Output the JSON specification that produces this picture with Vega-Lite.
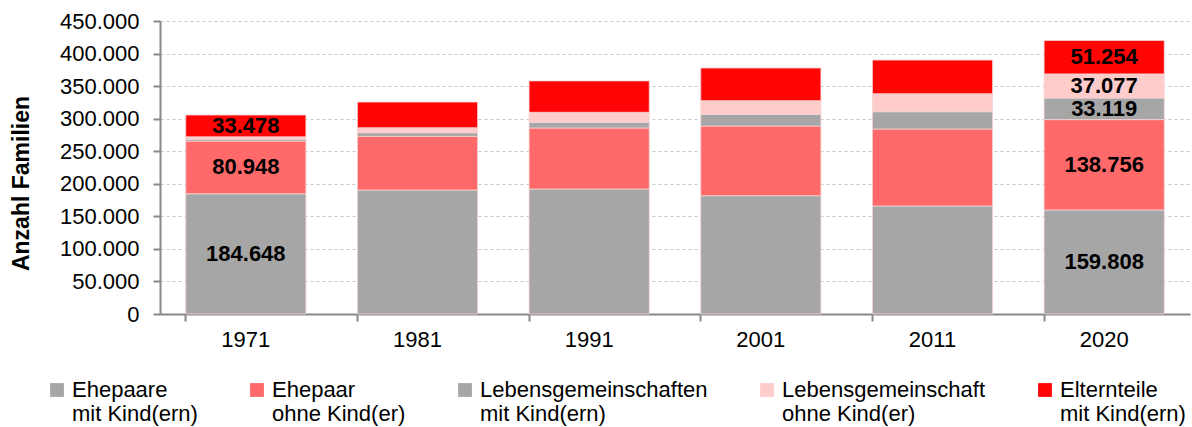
{
  "$schema": "https://vega.github.io/schema/vega-lite/v6.json",
  "width": 1030,
  "height": 293,
  "autosize": {"type": "none"},
  "padding": {"left": 160, "top": 21, "right": 2, "bottom": 113},
  "config": {
    "font": "Liberation Sans",
    "view": {"stroke": null},
    "locale": {"number": {"decimal": ",", "thousands": ".", "grouping": [3], "currency": ["", " €"]}}
  },
  "data": {
    "values": [
      {"Jahr": "1971", "Rang": 1, "Kategorie": "Ehepaare mit Kind(ern)", "Anzahl": 184648},
      {"Jahr": "1971", "Rang": 2, "Kategorie": "Ehepaar ohne Kind(er)", "Anzahl": 80948},
      {"Jahr": "1971", "Rang": 3, "Kategorie": "Lebensgemeinschaften mit Kind(ern)", "Anzahl": 3000},
      {"Jahr": "1971", "Rang": 4, "Kategorie": "Lebensgemeinschaft ohne Kind(er)", "Anzahl": 3500},
      {"Jahr": "1971", "Rang": 5, "Kategorie": "Elternteile mit Kind(ern)", "Anzahl": 33478},
      {"Jahr": "1981", "Rang": 1, "Kategorie": "Ehepaare mit Kind(ern)", "Anzahl": 190400},
      {"Jahr": "1981", "Rang": 2, "Kategorie": "Ehepaar ohne Kind(er)", "Anzahl": 82400},
      {"Jahr": "1981", "Rang": 3, "Kategorie": "Lebensgemeinschaften mit Kind(ern)", "Anzahl": 5600},
      {"Jahr": "1981", "Rang": 4, "Kategorie": "Lebensgemeinschaft ohne Kind(er)", "Anzahl": 7700},
      {"Jahr": "1981", "Rang": 5, "Kategorie": "Elternteile mit Kind(ern)", "Anzahl": 39400},
      {"Jahr": "1991", "Rang": 1, "Kategorie": "Ehepaare mit Kind(ern)", "Anzahl": 192000},
      {"Jahr": "1991", "Rang": 2, "Kategorie": "Ehepaar ohne Kind(er)", "Anzahl": 93700},
      {"Jahr": "1991", "Rang": 3, "Kategorie": "Lebensgemeinschaften mit Kind(ern)", "Anzahl": 8700},
      {"Jahr": "1991", "Rang": 4, "Kategorie": "Lebensgemeinschaft ohne Kind(er)", "Anzahl": 15400},
      {"Jahr": "1991", "Rang": 5, "Kategorie": "Elternteile mit Kind(ern)", "Anzahl": 48200},
      {"Jahr": "2001", "Rang": 1, "Kategorie": "Ehepaare mit Kind(ern)", "Anzahl": 181700},
      {"Jahr": "2001", "Rang": 2, "Kategorie": "Ehepaar ohne Kind(er)", "Anzahl": 107000},
      {"Jahr": "2001", "Rang": 3, "Kategorie": "Lebensgemeinschaften mit Kind(ern)", "Anzahl": 17900},
      {"Jahr": "2001", "Rang": 4, "Kategorie": "Lebensgemeinschaft ohne Kind(er)", "Anzahl": 21000},
      {"Jahr": "2001", "Rang": 5, "Kategorie": "Elternteile mit Kind(ern)", "Anzahl": 50200},
      {"Jahr": "2011", "Rang": 1, "Kategorie": "Ehepaare mit Kind(ern)", "Anzahl": 165900},
      {"Jahr": "2011", "Rang": 2, "Kategorie": "Ehepaar ohne Kind(er)", "Anzahl": 118200},
      {"Jahr": "2011", "Rang": 3, "Kategorie": "Lebensgemeinschaften mit Kind(ern)", "Anzahl": 26600},
      {"Jahr": "2011", "Rang": 4, "Kategorie": "Lebensgemeinschaft ohne Kind(er)", "Anzahl": 27600},
      {"Jahr": "2011", "Rang": 5, "Kategorie": "Elternteile mit Kind(ern)", "Anzahl": 51700},
      {"Jahr": "2020", "Rang": 1, "Kategorie": "Ehepaare mit Kind(ern)", "Anzahl": 159808},
      {"Jahr": "2020", "Rang": 2, "Kategorie": "Ehepaar ohne Kind(er)", "Anzahl": 138756},
      {"Jahr": "2020", "Rang": 3, "Kategorie": "Lebensgemeinschaften mit Kind(ern)", "Anzahl": 33119},
      {"Jahr": "2020", "Rang": 4, "Kategorie": "Lebensgemeinschaft ohne Kind(er)", "Anzahl": 37077},
      {"Jahr": "2020", "Rang": 5, "Kategorie": "Elternteile mit Kind(ern)", "Anzahl": 51254}
    ]
  },
  "encoding": {
    "y": {
      "field": "Anzahl", "type": "quantitative", "stack": "zero",
      "scale": {"domain": [0, 450000], "nice": false},
      "axis": {
        "title": "Anzahl Familien", "titleFontSize": 23, "titleFontWeight": "bold", "titleColor": "#000000", "titleX": -127, "titleY": 162,
        "values": [0, 50000, 100000, 150000, 200000, 250000, 300000, 350000, 400000, 450000],
        "format": ",d", "labelFontSize": 22, "labelColor": "#000000", "labelPadding": 14, "labelOverlap": false,
        "tickSize": 7, "tickColor": "#888888", "tickWidth": 2, "domainColor": "#888888", "domainWidth": 2,
        "grid": true, "gridDash": [3, 3], "gridColor": "#c8c8c8", "gridWidth": 1
      }
    },
    "order": {"field": "Rang", "type": "quantitative", "sort": "ascending"}
  },
  "layer": [
    {
      "mark": {"type": "bar", "stroke": "#f4d4d4", "strokeWidth": 0.8},
      "encoding": {
        "x": {
          "field": "Jahr", "type": "nominal",
          "scale": {"paddingInner": 0.3, "paddingOuter": 0.15},
          "axis": {"title": null, "orient": "bottom", "labelAngle": 0, "labelFontSize": 22, "labelColor": "#000000", "labelPadding": 15, "ticks": false, "domainColor": "#888888", "domainWidth": 2}
        },
        "color": {
          "field": "Kategorie", "type": "nominal",
          "sort": ["Ehepaare mit Kind(ern)", "Ehepaar ohne Kind(er)", "Lebensgemeinschaften mit Kind(ern)", "Lebensgemeinschaft ohne Kind(er)", "Elternteile mit Kind(ern)"],
          "scale": {
            "domain": ["Ehepaare mit Kind(ern)", "Ehepaar ohne Kind(er)", "Lebensgemeinschaften mit Kind(ern)", "Lebensgemeinschaft ohne Kind(er)", "Elternteile mit Kind(ern)"],
            "range": ["#a6a6a6", "#ff6969", "#a6a6a6", "#ffcccc", "#ff0505"]
          },
          "legend": {
            "title": null, "orient": "none", "legendX": -114, "legendY": 358,
            "direction": "horizontal", "columns": 5, "gridAlign": "none", "columnPadding": 48,
            "symbolType": "square", "symbolSize": 190, "symbolStrokeWidth": 0, "symbolOpacity": 1,
            "labelFontSize": 22, "labelColor": "#000000", "labelLimit": 400, "labelOffset": 4,
            "labelExpr": "[slice(datum.label, 0, indexof(datum.label, ' ')), slice(datum.label, indexof(datum.label, ' ') + 1)]"
          }
        }
      }
    },
    {
      "mark": {"type": "text", "fontSize": 22, "fontWeight": "bold", "color": "#000000", "baseline": "middle"},
      "encoding": {
        "x": {
          "field": "Jahr", "type": "nominal",
          "axis": {"title": null, "orient": "bottom", "labels": false, "domain": false, "ticks": true, "bandPosition": 0, "tickSize": 7, "tickColor": "#888888", "tickWidth": 2, "grid": false}
        },
        "y": {"field": "Anzahl", "type": "quantitative", "stack": "zero", "bandPosition": 0.5},
        "detail": {"field": "Kategorie", "type": "nominal"},
        "text": {
          "condition": {"test": "datum.Jahr == '2020' || (datum.Jahr == '1971' && datum.Anzahl > 10000)", "field": "Anzahl", "type": "quantitative", "format": ",d"},
          "value": ""
        }
      }
    }
  ],
  "resolve": {"axis": {"x": "independent"}}
}
